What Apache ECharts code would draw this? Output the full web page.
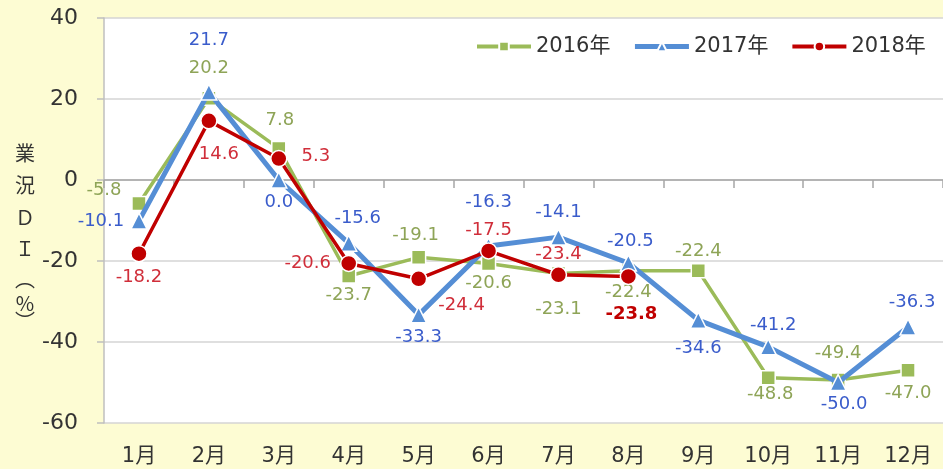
<!DOCTYPE html>
<html>
<head>
<meta charset="utf-8">
<script src="https://cdn.jsdelivr.net/npm/echarts@6/dist/echarts.min.js"></script>
<style>
html,body{margin:0;padding:0;background:#FDFCD3;}
#c{width:943px;height:469px;}
</style>
</head>
<body>
<div id="c"></div>
<script>
// ---- data ----
var months = ['1月','2月','3月','4月','5月','6月','7月','8月','9月','10月','11月','12月'];
var seriesNames = ['2016年','2017年','2018年'];
var v2016 = [-5.8, 20.2, 7.8, -23.7, -19.1, -20.6, -23.1, -22.4, -22.4, -48.8, -49.4, -47.0];
var v2017 = [-10.1, 21.7, 0.0, -15.6, -33.3, -16.3, -14.1, -20.5, -34.6, -41.2, -50.0, -36.3];
var v2018 = [-18.2, 14.6, 5.3, -20.6, -24.4, -17.5, -23.4, -23.8];
var yTicks = [-60, 40, 20];
var axisNameChars = ['業','況','Ｄ','Ｉ','︵','%','︶'];

// ---- layout / style (label offsets from point centre, px) ----
var off2016 = [[-35,-13],[0,-30],[1,-28],[0,19],[-3,-22],[0,20],[0,36],[0,22],[0,-19],[2,17],[0,-27],[0,23]];
var off2017 = [[-38,0],[0,-52],[0,22],[9,-25],[0,22],[0,-44],[0,-25],[2,-22],[0,28],[5,-22],[6,22],[4,-25]];
var off2018 = [[0,24],[10,33],[37,-2],[-41,0],[43,27],[0,-21],[0,-20],[3,38]];
var nameY = [153,185,217,248,279,303,321];

var FONT = "'DejaVu Sans','Noto Sans CJK JP',sans-serif";

function buildData(vals, offs, color, boldIdx) {
  return vals.map(function (v, i) {
    var lab = {
      show: true,
      position: 'inside',
      offset: offs[i],
      align: 'center',
      verticalAlign: 'middle',
      color: color,
      fontSize: 18,
      fontFamily: FONT,
      formatter: function (p) { return p.value.toFixed(1); }
    };
    if (boldIdx === i) { lab.fontWeight = 'bold'; lab.color = '#C00000'; }
    return { value: v, label: lab };
  });
}

var chart = echarts.init(document.getElementById('c'), null, {renderer: 'canvas'});

var graphics = axisNameChars.map(function (ch, i) {
  return {
    type: 'text',
    x: 25, y: nameY[i],
    style: {
      text: ch,
      fill: '#333', fontSize: 20, fontFamily: "'Noto Sans CJK JP',sans-serif",
      align: 'center', verticalAlign: 'middle'
    }
  };
});

var option = {
  backgroundColor: '#FDFCD3',
  animation: false,
  textStyle: { fontFamily: FONT },
  grid: {
    left: 104, top: 18, width: 845, height: 405,
    show: true, backgroundColor: '#ffffff', borderWidth: 0
  },
  legend: {
    left: 470, top: 31,
    itemWidth: 54, itemHeight: 12, itemGap: 22,
    textStyle: { fontSize: 21, color: '#333', fontFamily: FONT },
    data: [
      { name: seriesNames[0], lineStyle: { width: 4 } },
      { name: seriesNames[1], lineStyle: { width: 5 } },
      { name: seriesNames[2], lineStyle: { width: 4 } }
    ]
  },
  xAxis: {
    type: 'category',
    data: months,
    boundaryGap: true,
    axisLine: { lineStyle: { color: '#A6A6A6', width: 1.5 } },
    axisTick: { show: true, length: 8, lineStyle: { color: '#A6A6A6', width: 1.5 } },
    axisLabel: { fontSize: 21, color: '#333', margin: 23, fontFamily: FONT }
  },
  yAxis: {
    type: 'value',
    min: yTicks[0], max: yTicks[1], interval: yTicks[2],
    axisLine: { show: true, lineStyle: { color: '#BFBFBF', width: 1.5 } },
    axisTick: { show: true, length: 7, lineStyle: { color: '#BFBFBF', width: 1.5 } },
    splitLine: { lineStyle: { color: '#D4D4D4', width: 1.5 } },
    axisLabel: { fontSize: 22, color: '#333', margin: 26, fontFamily: FONT }
  },
  graphic: graphics,
  series: [
    {
      name: seriesNames[0], type: 'line', z: 2,
      data: buildData(v2016, off2016, '#8EA457'),
      symbol: 'rect', symbolSize: 14,
      lineStyle: { color: '#9BBB59', width: 3.5 },
      itemStyle: { color: '#9BBB59', borderColor: '#fff', borderWidth: 1.5 }
    },
    {
      name: seriesNames[1], type: 'line', z: 3,
      data: buildData(v2017, off2017, '#3A5CCB'),
      symbol: 'triangle', symbolSize: 16,
      lineStyle: { color: '#558ED5', width: 5 },
      itemStyle: { color: '#558ED5', borderColor: '#fff', borderWidth: 1.5 }
    },
    {
      name: seriesNames[2], type: 'line', z: 4,
      data: buildData(v2018, off2018, '#D02E3A', 7),
      symbol: 'circle', symbolSize: 16,
      lineStyle: { color: '#C00000', width: 3.5 },
      itemStyle: { color: '#C00000', borderColor: '#fff', borderWidth: 1.5 }
    }
  ]
};
chart.setOption(option);
</script>
</body>
</html>
